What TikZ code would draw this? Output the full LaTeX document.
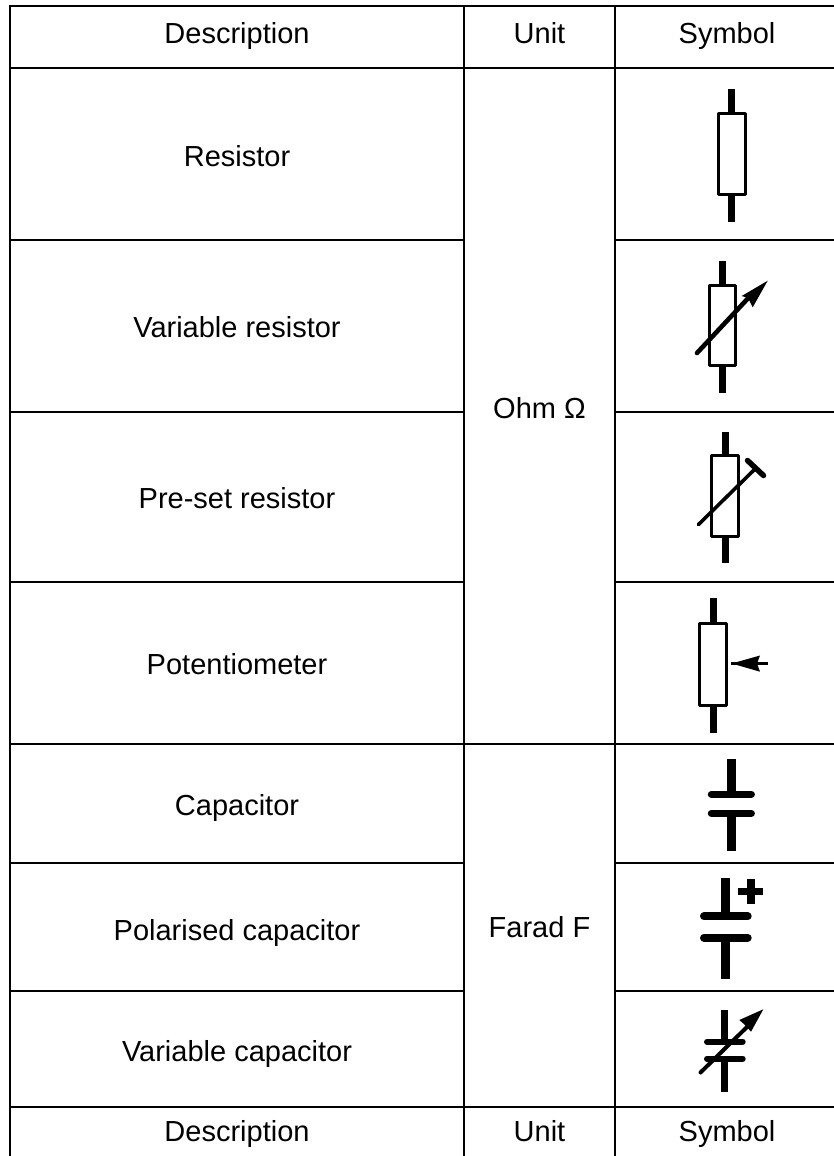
\documentclass[tikz,border=0pt]{standalone}
\usepackage{fontspec}
\setmainfont{Liberation Sans}
\tikzset{
  x=1pt,y=-1pt,
  grid/.style={line width=2pt,black,line cap=butt},
  lab/.style={font=\fontsize{29}{34}\selectfont,inner sep=0pt,anchor=base},
  lead/.style={line width=7pt,line cap=butt},
  body/.style={line width=3pt,line join=round},
  plate/.style={line width=7.3pt,line cap=round},
  slider/.style={line width=4.6pt,line cap=round},
}
\begin{document}
\begin{tikzpicture}
\useasboundingbox (0,0) rectangle (834,1156);
% grid
\draw[grid] (10,1156) -- (10,6.5) -- (834,6.5);
\draw[grid] (464,6.5) -- (464,1156);
\draw[grid] (615,6.5) -- (615,1156);
\foreach \y in {68,744,1107}{\draw[grid] (10,\y) -- (834,\y);}
\foreach \y in {240,411.5,582,863,991}{\draw[grid] (10,\y) -- (464,\y) (615,\y) -- (834,\y);}
% labels
\node[lab] (d1) at (237,44) {Description};
\node[lab] (u1) at (539.5,44) {Unit};
\node[lab] (s1) at (727,44) {Symbol};
\node[lab] (r1) at (237,166.7) {Resistor};
\node[lab] (r2) at (237,337.3) {Variable resistor};
\node[lab] (r3) at (237,508.3) {Pre-set resistor};
\node[lab] (r4) at (237,674.3) {Potentiometer};
\node[lab] (c1) at (237,815.7) {Capacitor};
\node[lab] (c2) at (237,940) {Polarised capacitor};
\node[lab] (c3) at (237,1061) {Variable capacitor};
\node[lab] (ohm) at (539.5,418.3) {Ohm Ω};
\node[lab] (far) at (539.5,937.7) {Farad F};
\node[lab] (d2) at (237,1141.7) {Description};
\node[lab] (u2) at (539.5,1141.7) {Unit};
\node[lab] (s2) at (727,1141.7) {Symbol};
% resistor
\draw[lead] (731.7,89) -- (731.7,113) (731.7,194) -- (731.7,221.7);
\draw[body] (718.2,113.2) rectangle (745.2,194.5);
% variable resistor
\draw[lead] (722.3,261) -- (722.3,285) (722.3,366) -- (722.3,393.3);
\draw[body] (709.2,285.5) rectangle (735.8,365.2);
\draw[slider] (697,353) -- (752,294);
\fill (767.7,280.7) -- (741.7,296) -- (748,298) -- (752.7,307.3) -- cycle;
% preset
\draw[lead] (725,432.3) -- (725,456) (725,537) -- (725,563.3);
\draw[body] (711.5,455.8) rectangle (738.5,536.8);
\draw[line width=3.6pt,line cap=round] (698.5,524.5) -- (755,469);
\draw[line width=5.5pt,line cap=round] (747.5,460.5) -- (763.5,475.5);
% potentiometer
\draw[line width=6.5pt] (713.7,598.3) -- (713.7,623) (713.7,706) -- (713.7,733.3);
\draw[body] (699.8,623.2) rectangle (726.8,705.2);
\draw[line width=3pt] (731,663.5) -- (767.7,663.5);
\fill (731.7,663.5) -- (760,655.5) -- (757,663.5) -- (760,671.7) -- cycle;
% capacitor
\draw[line width=8.7pt] (731.7,759) -- (731.7,794) (731.7,813) -- (731.7,851);
\draw[plate] (711.4,794.3) -- (751.3,794.3) (711.4,813.3) -- (751.3,813.3);
% polarised
\draw[line width=8.7pt] (725.3,877.7) -- (725.3,916) (725.3,938) -- (725.3,979);
\draw[plate,line width=8pt] (704,916.3) -- (747.7,916.3) (704,937.7) -- (747.7,937.7);
\draw[line width=7.3pt] (738.3,891.7) -- (763.3,891.7) (751,879.3) -- (751,904.3);
% variable capacitor
\draw[line width=6.7pt] (724.7,1010) -- (724.7,1042) (724.7,1058) -- (724.7,1091.7);
\draw[plate,line width=6pt] (707,1041.7) -- (742.7,1041.7) (707,1058.7) -- (742.7,1058.7);
\draw[slider,line width=4pt] (700.5,1072.5) -- (748,1026);
\fill (763.3,1009.3) -- (739.3,1020) -- (745,1025) -- (751,1031.7) -- cycle;
\end{tikzpicture}
\end{document}
